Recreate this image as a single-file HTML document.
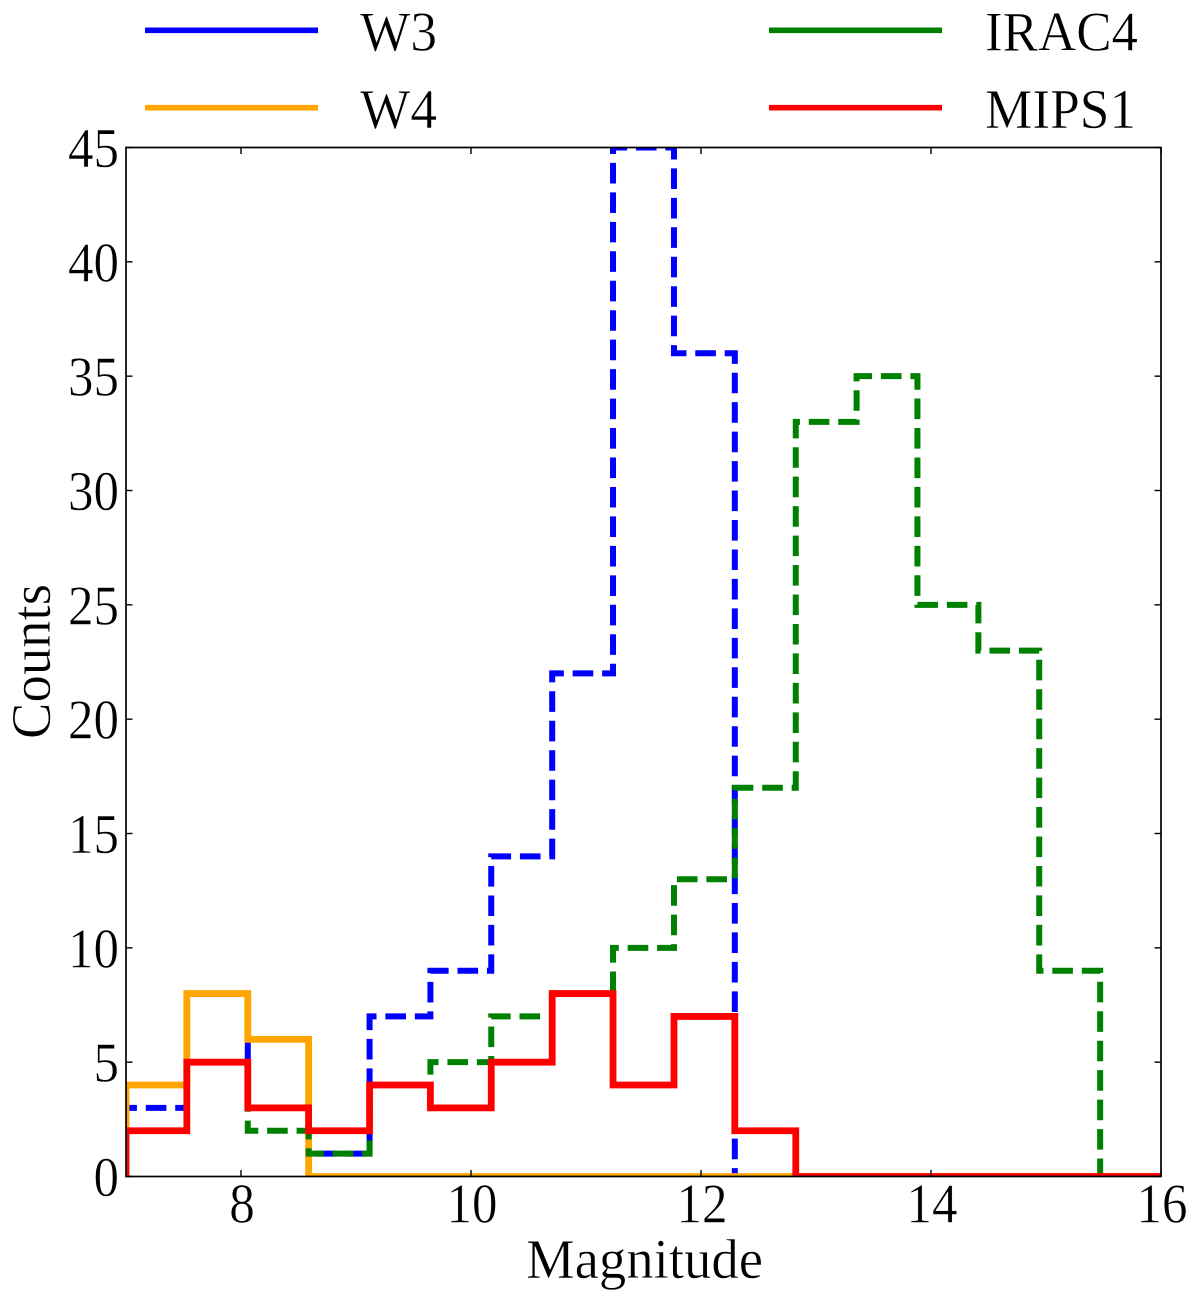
<!DOCTYPE html>
<html>
<head>
<meta charset="utf-8">
<title>Magnitude histogram</title>
<style>
  html, body { margin: 0; padding: 0; background: #fff; }
  svg { display: block; }
  text { font-family: "Liberation Serif", serif; fill: #000; stroke: #fff; stroke-width: 0.5px; }
</style>
</head>
<body>
<svg id="chart" xmlns="http://www.w3.org/2000/svg" width="1200" height="1301" viewBox="0 0 1200 1301">
  <rect x="0" y="0" width="1200" height="1301" fill="#fff"/>
  <defs>
    <clipPath id="plot-clip"><rect x="126" y="147.5" width="1035" height="1029"/></clipPath>
  </defs>
  <g id="series" clip-path="url(#plot-clip)"></g>
  <g id="ticks"></g>
  <rect x="126" y="147.5" width="1035" height="1029" fill="none" stroke="#000" stroke-width="1.7"/>

  <text x="526" y="1278" font-size="56" textLength="237" lengthAdjust="spacingAndGlyphs">Magnitude</text>
  <text transform="translate(50 739) rotate(-90)" x="0" y="0" font-size="56" textLength="155" lengthAdjust="spacingAndGlyphs">Counts</text>

  <g>
    <line x1="145" x2="318" y1="30.3" y2="30.3" stroke="#0000ff" stroke-width="5.7"/>
    <text x="360" y="50.5" font-size="56" textLength="77" lengthAdjust="spacingAndGlyphs">W3</text>
    <line x1="145" x2="318" y1="107.7" y2="107.7" stroke="#ffa500" stroke-width="5.7"/>
    <text x="360" y="128" font-size="56" textLength="77" lengthAdjust="spacingAndGlyphs">W4</text>
    <line x1="769" x2="942" y1="30.3" y2="30.3" stroke="#008000" stroke-width="5.7"/>
    <text x="985" y="50.5" font-size="56" textLength="153" lengthAdjust="spacingAndGlyphs">IRAC4</text>
    <line x1="769" x2="942" y1="107.7" y2="107.7" stroke="#ff0000" stroke-width="5.7"/>
    <text x="985" y="128" font-size="56" textLength="151" lengthAdjust="spacingAndGlyphs">MIPS1</text>
  </g>
</svg>
<script>
const binEdges = [7, 7.529, 8.059, 8.588, 9.118, 9.647, 10.176, 10.706, 11.235, 11.765, 12.294, 12.824, 13.353, 13.882, 14.412, 14.941, 15.471, 16];
const w3Counts = [3, 5, 6, 1, 7, 9, 14, 22, 45, 36, 0, 0, 0, 0, 0, 0, 0];
const w4Counts = [4, 8, 6, 0, 0, 0, 0, 0, 0, 0, 0, 0, 0, 0, 0, 0, 0];
const irac4Counts = [2, 5, 2, 1, 4, 5, 7, 8, 10, 13, 17, 33, 35, 25, 23, 9, 0];
const mips1Counts = [2, 5, 3, 2, 4, 3, 5, 8, 4, 7, 2, 0, 0, 0, 0, 0, 0];
const xTickValues = [8, 10, 12, 14, 16];
const yTickValues = [0, 5, 10, 15, 20, 25, 30, 35, 40, 45];

const NS = 'http://www.w3.org/2000/svg';
const plot = { left: 126, right: 1161, top: 147.5, bottom: 1176.5 };
const xDomain = [7, 16];
const yDomain = [0, 45];
const tickLen = 6.5;

function xScale(v) {
  return plot.left + (v - xDomain[0]) / (xDomain[1] - xDomain[0]) * (plot.right - plot.left);
}
function yScale(v) {
  return plot.bottom - (v - yDomain[0]) / (yDomain[1] - yDomain[0]) * (plot.bottom - plot.top);
}
function stepPath(counts) {
  let d = 'M' + xScale(binEdges[0]).toFixed(2) + ' ' + yScale(0).toFixed(2);
  counts.forEach(function (c, i) {
    d += 'L' + xScale(binEdges[i]).toFixed(2) + ' ' + yScale(c).toFixed(2);
    d += 'L' + xScale(binEdges[i + 1]).toFixed(2) + ' ' + yScale(c).toFixed(2);
  });
  d += 'L' + xScale(binEdges[binEdges.length - 1]).toFixed(2) + ' ' + yScale(0).toFixed(2);
  return d;
}
function addSeries(counts, color, dash, width, name) {
  const p = document.createElementNS(NS, 'path');
  
  
  p.setAttribute('d', stepPath(counts));
  p.setAttribute('fill', 'none');
  p.setAttribute('stroke', color);
  p.setAttribute('stroke-width', width);
  p.setAttribute('stroke-linejoin', 'miter');
  if (dash) p.setAttribute('stroke-dasharray', dash);
  document.getElementById('series').appendChild(p);
}
function addTick(x1, y1, x2, y2, name) {
  const l = document.createElementNS(NS, 'line');
  
  
  l.setAttribute('x1', x1);
  l.setAttribute('y1', y1);
  l.setAttribute('x2', x2);
  l.setAttribute('y2', y2);
  l.setAttribute('stroke', '#000');
  l.setAttribute('stroke-width', '1.4');
  document.getElementById('ticks').appendChild(l);
}
function addLabel(x, y, anchor, str, name) {
  const t = document.createElementNS(NS, 'text');
  
  
  t.setAttribute('x', x);
  t.setAttribute('y', y);
  t.setAttribute('text-anchor', anchor);
  t.setAttribute('font-size', '56');
  t.setAttribute('textLength', str.length * 25.5);
  t.setAttribute('lengthAdjust', 'spacingAndGlyphs');
  t.textContent = str;
  document.getElementById('ticks').appendChild(t);
}

addSeries(w3Counts, '#0000ff', '20.6 8.86', 6, 'series-w3');
addSeries(w4Counts, '#ffa500', null, 6.8, 'series-w4');
addSeries(irac4Counts, '#008000', '20.6 8.86', 6, 'series-irac4');
addSeries(mips1Counts, '#ff0000', null, 6.8, 'series-mips1');

xTickValues.forEach(function (v) {
  const x = xScale(v);
  addTick(x, plot.bottom, x, plot.bottom - tickLen, 'x-tick-bottom');
  addTick(x, plot.top, x, plot.top + tickLen, 'x-tick-top');
  addLabel(x + 1, 1222.5, 'middle', String(v), 'x-tick-label');
});
yTickValues.forEach(function (v) {
  const y = yScale(v);
  addTick(plot.left, y, plot.left + tickLen, y, 'y-tick-left');
  addTick(plot.right, y, plot.right - tickLen, y, 'y-tick-right');
  addLabel(119, y + 19.5, 'end', String(v), 'y-tick-label');
});
</script>
</body>
</html>
